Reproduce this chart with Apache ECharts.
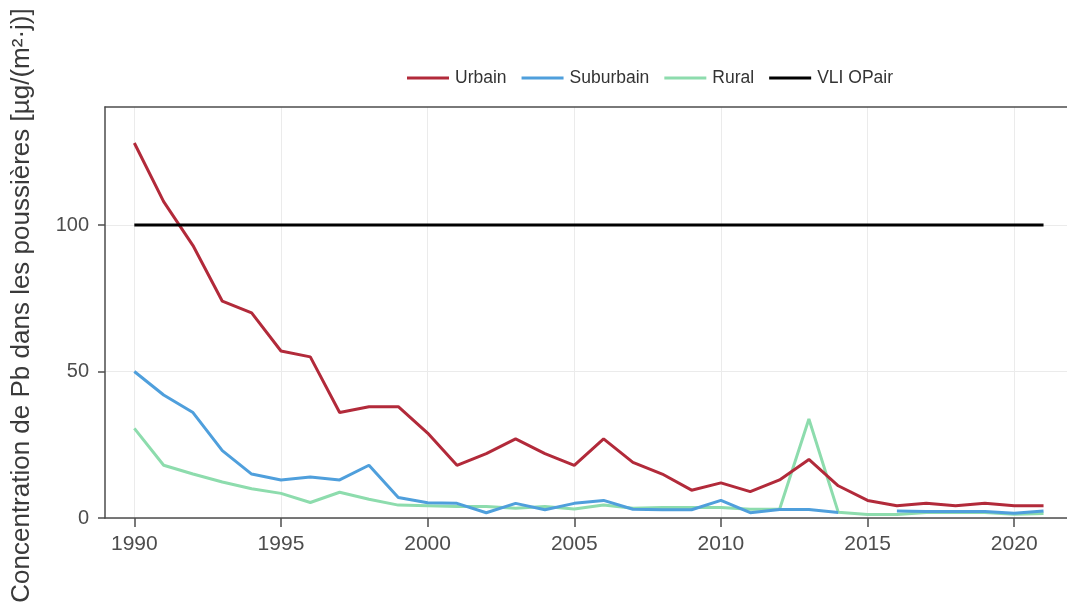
<!DOCTYPE html>
<html>
<head>
<meta charset="utf-8">
<script src="https://cdn.jsdelivr.net/npm/echarts@6/dist/echarts.min.js"></script>
<style>
html,body{margin:0;padding:0;background:#fff;}
#chart{width:1067px;height:609px;}
</style>
</head>
<body>
<div id="chart"></div>
<script>
const years = [1990,1991,1992,1993,1994,1995,1996,1997,1998,1999,2000,2001,2002,2003,2004,2005,2006,2007,2008,2009,2010,2011,2012,2013,2014,2015,2016,2017,2018,2019,2020,2021];
const urbain = [128,108,93,74,70,57,55,36,38,38,29,18,22,27,22,18,27,19,15,9.5,12,9,13,20,11,6,4.2,5,4.2,5,4.2,4.2];
const suburbain = [50,42,36,23,15,13,14,13,18,7,5.2,5,1.8,5,2.8,5,6,3,2.8,2.8,6,1.8,2.9,2.9,1.9,null,2.4,2.2,2.2,2.2,1.6,2.4];
const rural = [30.6,18,15,12.3,10,8.4,5.3,8.8,6.4,4.4,4.2,3.9,3.9,3.3,3.9,3.1,4.4,3.3,3.6,3.6,3.6,3,3,33.8,2,1.2,1.2,1.9,1.9,1.9,1.3,1.5];
const vli = [100,100];
const vliYears = [1990,2021];
const xTicks = [1990,1995,2000,2005,2010,2015,2020];
const yTicks = [0,50,100];

const pair = (xs, ys) => xs.map((x,i)=>[x, ys[i]]);
const font = 'Liberation Sans, Arial, sans-serif';
const axisColor = '#4d4d4d';

const chart = echarts.init(document.getElementById('chart'));
chart.setOption({
  animation: false,
  textStyle: {fontFamily: font},
  grid: {left:105, right:0, top:107, bottom:91, containLabel:false, outerBoundsMode:'none'},
  legend: {
    left: 402, top: 64,
    icon: 'rect',
    itemWidth: 42, itemHeight: 3, itemGap: 15,
    textStyle: {fontSize: 17.5, color: '#333', fontFamily: font, padding:[0,0,0,1]},
    data: ['Urbain','Suburbain','Rural','VLI OPair']
  },
  xAxis: [{
    type: 'value', min: 1989, max: 2021.8,
    axisLine: {show:true, onZero:false, lineStyle:{color:axisColor, width:1.5}},
    axisTick: {show:true, length:9, customValues: xTicks, lineStyle:{color:axisColor, width:1.5}},
    axisLabel: {customValues: xTicks, fontSize:21, color:axisColor, margin:16, fontFamily:font, formatter: v => String(v)},
    splitLine: {show:true, lineStyle:{color:'#ebebeb', width:1}}
  },{
    type: 'value', position:'top', min: 1989, max: 2021.8,
    axisLine: {show:true, onZero:false, lineStyle:{color:axisColor, width:1.5}},
    axisTick: {show:false}, axisLabel:{show:false}, splitLine:{show:false}
  }],
  yAxis: {
    type: 'value', min: 0, max: 140.3,
    name: 'Concentration de Pb dans les poussières [µg/(m²·j)]',
    nameLocation: 'middle', nameGap: 70,
    nameTextStyle: {fontSize: 26, color: '#3a3a3a', fontFamily: font, padding:[0,0,0,14]},
    axisLine: {show:true, onZero:false, lineStyle:{color:axisColor, width:1.5}},
    axisTick: {show:true, length:7, customValues: yTicks, lineStyle:{color:axisColor, width:1.5}},
    axisLabel: {customValues: yTicks, fontSize:20, color:axisColor, margin:16, fontFamily:font},
    splitLine: {show:true, lineStyle:{color:'#ebebeb', width:1}}
  },
  series: [
    {name:'Urbain', type:'line', data: pair(years, urbain), symbol:'none', lineStyle:{color:'#b22a3a', width:3}, itemStyle:{color:'#b22a3a'}, z:4},
    {name:'Suburbain', type:'line', data: pair(years, suburbain), symbol:'none', connectNulls:false, lineStyle:{color:'#4f9fdc', width:3}, itemStyle:{color:'#4f9fdc'}, z:3},
    {name:'Rural', type:'line', data: pair(years, rural), symbol:'none', lineStyle:{color:'#8ddcad', width:3}, itemStyle:{color:'#8ddcad'}, z:2},
    {name:'VLI OPair', type:'line', data: pair(vliYears, vli), symbol:'none', lineStyle:{color:'#000', width:3}, itemStyle:{color:'#000'}, z:5}
  ]
});
</script>
</body>
</html>
